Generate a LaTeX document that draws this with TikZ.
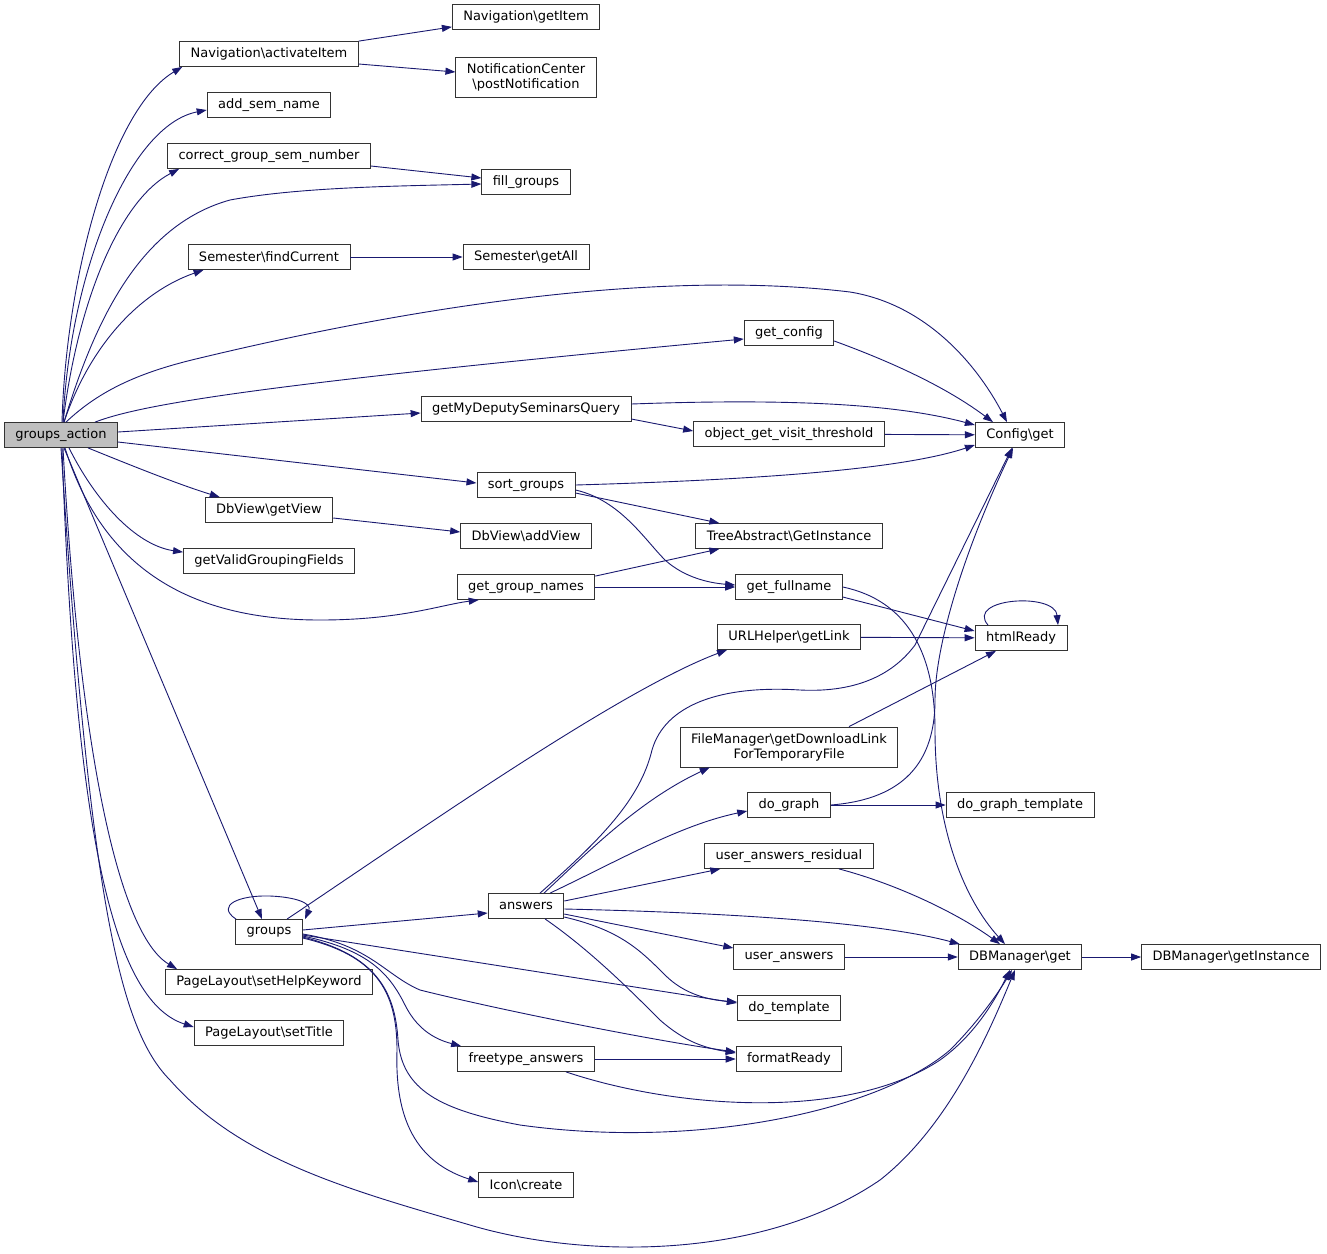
\documentclass[tikz,border=0pt]{standalone}
\usepackage{fontspec}
\setmainfont{DejaVu Sans}
\usetikzlibrary{arrows.meta}
\definecolor{edgeblue}{RGB}{25,25,112}
\newcommand{\bsl}{\textbackslash}
\tikzset{
  fn/.style={draw=black!80, fill=white, line width=0.8pt, font=\fontsize{13}{15}\selectfont, inner xsep=11pt, inner ysep=0pt, minimum height=25pt},
  call/.style={draw=edgeblue, line width=0.9pt, -{Triangle[length=10pt,width=7pt]}}
}
\begin{document}
\begin{tikzpicture}[x=1pt, y=-1pt]
\useasboundingbox[fill=white] (0,0) rectangle (1327,1253);

\node[fn, fill=black!25] (ga) at (61,435) {groups\_action};
\node[fn] (navact) at (269,54) {Navigation\bsl activateItem};
\node[fn] (navget) at (526,17) {Navigation\bsl getItem};
\node[fn, align=center, minimum height=40pt] (notify) at (526,77) {NotificationCenter\\\bsl postNotification};
\node[fn] (addsem) at (269,105) {add\_sem\_name};
\node[fn] (corrgrp) at (269,156) {correct\_group\_sem\_number};
\node[fn] (fillgrp) at (526,182) {fill\_groups};
\node[fn] (semfind) at (269,257) {Semester\bsl findCurrent};
\node[fn] (semall) at (526,257) {Semester\bsl getAll};
\node[fn] (getcfg) at (789,333) {get\_config};
\node[fn] (deputy) at (526,409) {getMyDeputySeminarsQuery};
\node[fn] (visit) at (789,434) {object\_get\_visit\_threshold};
\node[fn] (cfgget) at (1020,435) {Config\bsl get};
\node[fn] (sortgrp) at (526,485) {sort\_groups};
\node[fn] (dbview) at (269,510) {DbView\bsl getView};
\node[fn] (addview) at (526,536) {DbView\bsl addView};
\node[fn] (treeinst) at (789,536) {TreeAbstract\bsl GetInstance};
\node[fn] (validgrp) at (269,561) {getValidGroupingFields};
\node[fn] (grpnames) at (526,587) {get\_group\_names};
\node[fn] (fullname) at (789,587) {get\_fullname};
\node[fn] (urllink) at (789,637) {URLHelper\bsl getLink};
\node[fn] (html) at (1021,638) {htmlReady};
\node[fn, align=center, minimum height=40pt] (filemgr) at (789,747) {FileManager\bsl getDownloadLink\\ForTemporaryFile};
\node[fn] (dograph) at (789,805) {do\_graph};
\node[fn] (graphtpl) at (1020,805) {do\_graph\_template};
\node[fn] (residual) at (789,856) {user\_answers\_residual};
\node[fn] (answers) at (526,906) {answers};
\node[fn] (groups) at (269,932) {groups};
\node[fn] (useranswers) at (789,957) {user\_answers};
\node[fn] (dbget) at (1020,957) {DBManager\bsl get};
\node[fn] (dbinst) at (1231,957) {DBManager\bsl getInstance};
\node[fn] (helpkw) at (269,982) {PageLayout\bsl setHelpKeyword};
\node[fn] (dotpl) at (789,1008) {do\_template};
\node[fn] (settitle) at (269,1033) {PageLayout\bsl setTitle};
\node[fn] (freetype) at (526,1059) {freetype\_answers};
\node[fn] (fmtready) at (789,1059) {formatReady};
\node[fn] (icon) at (526,1185) {Icon\bsl create};

\draw[call] ([xshift=1pt]ga.north) .. controls (66,280) and (110,110) .. ([xshift=3pt]navact.south west);
\draw[call] ([xshift=2pt]ga.north) .. controls (70,270) and (130,125) .. ([yshift=-5pt]addsem.west);
\draw[call] ([xshift=2pt]ga.north) .. controls (78,300) and (120,200) .. ([xshift=12pt]corrgrp.south west);
\draw[call] ([xshift=3pt]ga.north) .. controls (95,320) and (140,225) .. (230,200) .. controls (300,187) and (400,186) .. ([yshift=-2pt]fillgrp.west);
\draw[call] ([xshift=3pt]ga.north) .. controls (90,345) and (140,292) .. ([xshift=16pt]semfind.south west);
\draw[call] ([xshift=5pt]ga.north) .. controls (100,390) and (140,372) .. (200,358) .. controls (400,310) and (650,268) .. (850,292) .. controls (930,305) and (980,370) .. ([xshift=-13pt]cfgget.north);
\draw[call] ([xshift=34pt]ga.north) .. controls (140,405) and (250,385) .. ([yshift=-6pt]getcfg.west);
\draw[call] ([yshift=3pt]ga.east) -- ([yshift=-4pt]deputy.west);
\draw[call] ([yshift=-7pt]ga.east) -- ([yshift=2pt]sortgrp.west);
\draw[call] ([xshift=27pt]ga.south) .. controls (130,465) and (180,485) .. ([xshift=15pt]dbview.north west);
\draw[call] ([xshift=8pt]ga.south) .. controls (95,500) and (135,545) .. ([yshift=-4pt]validgrp.north west);
\draw[call] ([xshift=4pt]ga.south) .. controls (100,560) and (180,620) .. (320,620) .. controls (400,620) and (440,605) .. ([xshift=22pt]grpnames.south west);
\draw[call] ([xshift=3pt]ga.south) -- ([xshift=-7pt]groups.north);
\draw[call] ([xshift=2pt]ga.south) .. controls (80,760) and (120,935) .. ([xshift=12pt]helpkw.north west);
\draw[call] ([xshift=1pt]ga.south) .. controls (75,820) and (110,1000) .. ([yshift=6pt]settitle.west);
\draw[call] (ga.south) .. controls (90,900) and (120,1030) .. (170,1080) .. controls (240,1160) and (350,1190) .. (470,1225) .. controls (580,1258) and (760,1262) .. (880,1180) .. controls (950,1125) and (990,1030) .. ([xshift=-5pt]dbget.south);

\draw[call] (navact.north east) -- ([yshift=3pt]navget.south west);
\draw[call] ([yshift=-10pt]navact.east) -- ([yshift=5pt]notify.west);
\draw[call] ([yshift=-10pt]corrgrp.east) -- ([yshift=4pt]fillgrp.west);
\draw[call] (semfind) -- (semall);
\draw[call] ([yshift=-8pt]getcfg.east) .. controls (900,365) and (950,390) .. ([xshift=-27pt]cfgget.north);
\draw[call] ([yshift=5pt]deputy.east) .. controls (800,398) and (900,405) .. ([yshift=10pt]cfgget.west);
\draw[call] ([yshift=-10pt]deputy.east) -- ([yshift=3pt]visit.west);
\draw[call] (visit) -- (cfgget);
\draw[call] (sortgrp.east) .. controls (750,480) and (900,470) .. ([yshift=-10pt]cfgget.west);
\draw[call] ([yshift=-8pt]sortgrp.east) -- ([xshift=24pt]treeinst.north west);
\draw[call] ([yshift=-5pt]sortgrp.east) .. controls (620,500) and (645,540) .. (665,560) .. controls (685,578) and (710,583) .. ([yshift=2pt]fullname.west);
\draw[call] ([yshift=-8pt]dbview.east) -- ([yshift=4pt]addview.west);
\draw[call] ([yshift=-2pt]grpnames.north east) -- ([xshift=24pt]treeinst.south west);
\draw[call] (grpnames) -- (fullname);
\draw[call] ([yshift=-10pt]fullname.east) -- ([yshift=7pt]html.west);
\draw[call] (fullname.east) .. controls (905,600) and (935,650) .. (935,730) .. controls (935,830) and (965,900) .. ([xshift=-15pt]dbget.north);
\draw[call] (urllink) -- (html);
\draw[call] ([xshift=-33pt]html.north) .. controls (965,598) and (1055,592) .. ([xshift=37pt]html.north);
\draw[call] ([xshift=60pt]filemgr.north) -- ([xshift=-25pt]html.south);
\draw[call] (dograph) -- (graphtpl);
\draw[call] (dograph.east) .. controls (895,800) and (935,770) .. (935,700) .. controls (935,650) and (960,560) .. ([xshift=-7pt]cfgget.south);

\draw[call] ([xshift=14pt]answers.north) .. controls (600,840) and (640,800) .. (652,750) .. controls (665,705) and (720,685) .. (800,690) .. controls (860,693) and (895,672) .. (915,645) -- ([xshift=-8pt]cfgget.south);
\draw[call] ([xshift=18pt]answers.north) .. controls (590,850) and (640,800) .. ([xshift=30pt]filemgr.south west);
\draw[call] ([xshift=24pt]answers.north) .. controls (620,860) and (680,825) .. ([yshift=-6pt]dograph.west);
\draw[call] ([yshift=5pt]answers.east) -- ([xshift=16pt]residual.south west);
\draw[call] ([yshift=-3pt]answers.east) .. controls (700,912) and (870,920) .. ([xshift=2pt]dbget.north west);
\draw[call] ([yshift=-8pt]answers.east) -- ([yshift=9pt]useranswers.west);
\draw[call] ([yshift=-11pt]answers.east) .. controls (620,930) and (640,950) .. (665,975) .. controls (685,995) and (710,1000) .. ([yshift=6pt]dotpl.west);
\draw[call] ([xshift=19pt]answers.south) .. controls (590,950) and (630,990) .. (660,1020) .. controls (685,1042) and (705,1048) .. ([yshift=6pt]fmtready.west);

\draw[call] ([xshift=-33pt]groups.north) .. controls (215,905) and (240,895) .. (270,896) .. controls (295,897) and (312,903) .. ([xshift=36pt]groups.north);
\draw[call] ([xshift=18pt]groups.north) .. controls (420,830) and (620,690) .. ([xshift=10pt]urllink.south west);
\draw[call] ([yshift=2pt]groups.east) -- ([yshift=-7pt]answers.west);
\draw[call] ([yshift=-3pt]groups.east) -- ([yshift=5pt]dotpl.west);
\draw[call] ([yshift=-2pt]groups.east) .. controls (370,945) and (385,975) .. (420,990) .. controls (500,1010) and (650,1040) .. ([yshift=7pt]fmtready.west);
\draw[call] ([yshift=-4pt]groups.east) .. controls (370,950) and (390,975) .. (405,1005) .. controls (415,1025) and (430,1038) .. ([xshift=4pt]freetype.north west);
\draw[call] ([yshift=-5pt]groups.east) .. controls (375,955) and (395,990) .. (398,1040) .. controls (402,1090) and (440,1110) .. (520,1125) .. controls (700,1150) and (880,1110) .. (950,1050) .. controls (980,1020) and (1000,990) .. ([xshift=-8pt]dbget.south);
\draw[call] ([yshift=-6pt]groups.east) .. controls (375,955) and (397,990) .. (397,1050) .. controls (395,1110) and (410,1160) .. ([yshift=3pt]icon.west);

\draw[call] (freetype) -- (fmtready);
\draw[call] ([xshift=40pt]freetype.south) .. controls (680,1110) and (850,1120) .. (940,1060) .. controls (975,1035) and (995,1000) .. ([xshift=-10pt]dbget.south);
\draw[call] ([xshift=50pt]residual.south) .. controls (900,885) and (960,915) .. ([xshift=-20pt]dbget.north);
\draw[call] (useranswers) -- (dbget);
\draw[call] (dbget) -- (dbinst);
\end{tikzpicture}
\end{document}
